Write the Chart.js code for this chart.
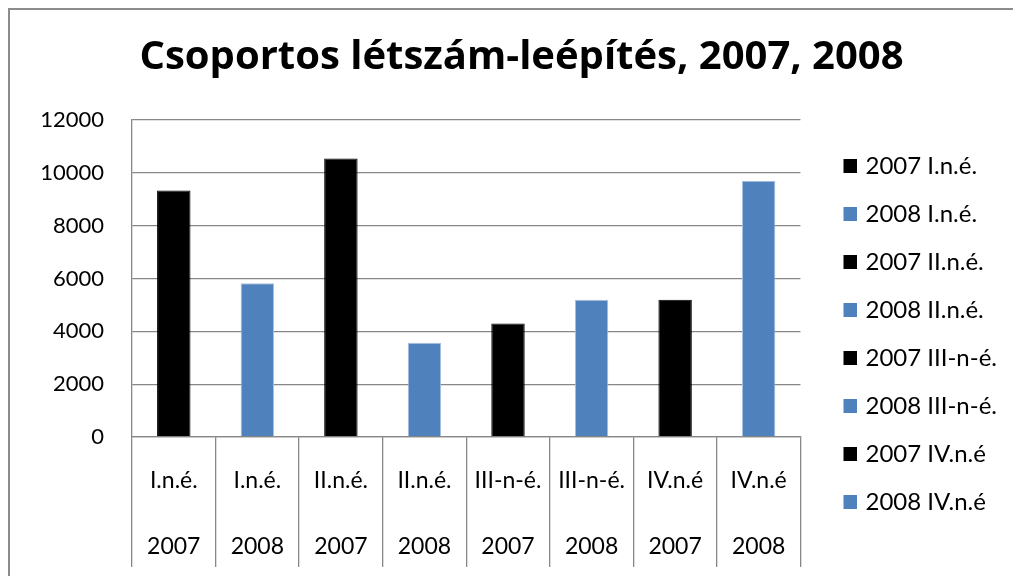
<!DOCTYPE html>
<html>
<head>
<meta charset="utf-8">
<script src="https://cdn.jsdelivr.net/npm/chart.js@4.4.1/dist/chart.umd.min.js"></script>
<style>
  html, body { margin: 0; padding: 0; background: #fff; }
  #wrap { width: 1013px; height: 576px; }
</style>
</head>
<body>
<div id="wrap"><canvas id="myChart"></canvas></div>
<script>
// negyedévek és évek (kétszintű kategóriatengely)
const quarters = ['I.n.é.', 'I.n.é.', 'II.n.é.', 'II.n.é.', 'III-n-é.', 'III-n-é.', 'IV.n.é', 'IV.n.é'];
const years = ['2007', '2008', '2007', '2008', '2007', '2008', '2007', '2008'];
const layoffs = [9330, 5820, 10540, 3570, 4300, 5200, 5200, 9700];
const yMin = 0, yMax = 12000, yStep = 2000;

const yearColors = { '2007': '#000000', '2008': '#4F81BD' };
const gridColor = '#878787';
const fontFamily = 'Lato, "Open Sans", sans-serif';

// jelmagyarázat-négyzet: átlátszó bal rész, hogy legyen hézag a rajzterület után
function swatch(color) {
  const c = document.createElement('canvas');
  c.width = 37;
  c.height = 14;
  const g = c.getContext('2d');
  g.fillStyle = color;
  g.fillRect(23, 0, 14, 14);
  return c;
}
const swatches = { '2007': swatch(yearColors['2007']), '2008': swatch(yearColors['2008']) };

// keret a diagram körül
const frame = {
  id: 'frame',
  beforeDraw(chart) {
    const c = chart.ctx;
    c.save();
    c.strokeStyle = '#8c8c8c';
    c.lineWidth = 2;
    c.strokeRect(9, 9, 1200, 1200);
    c.restore();
  }
};

const ctx = document.getElementById('myChart').getContext('2d');
const myChart = new Chart(ctx, {
  type: 'bar',
  data: {
    labels: quarters.map((q, i) => [q, years[i]]),
    datasets: [{
      label: 'Létszám-leépítés',
      data: layoffs,
      backgroundColor: years.map(y => yearColors[y]),
      borderColor: years.map(y => y === '2008' ? '#A9C1E0' : '#000000'),
      borderWidth: 1,
      categoryPercentage: 1,
      barPercentage: 0.4,
    }],
  },
  options: {
    responsive: true,
    maintainAspectRatio: false,
    animation: false,
    layout: { padding: { left: 36, right: 6, top: 30, bottom: 9 } },
    plugins: {
      title: {
        display: true,
        text: 'Csoportos létszám-leépítés, 2007, 2008',
        color: '#000',
        font: { family: '"Open Sans", sans-serif', size: 40, weight: 'bold' },
        padding: { top: 4, bottom: 38 },
      },
      legend: {
        position: 'right',
        align: 'start',
        // üres cím csak a függőleges eltolás miatt
        title: { display: true, text: '', font: { size: 1 }, padding: { top: 0, bottom: 98.8 } },
        labels: {
          color: '#000',
          font: { family: fontFamily, size: 24 },
          usePointStyle: true,
          pointStyleWidth: 29,
          boxHeight: 14,
          padding: 24,
          generateLabels: () => quarters.map((q, i) => ({
            text: years[i] + ' ' + q,
            fillStyle: yearColors[years[i]],
            strokeStyle: yearColors[years[i]],
            fontColor: '#000',
            pointStyle: swatches[years[i]],
            lineWidth: 0,
            hidden: false,
            index: i,
          })),
        },
        onClick: () => {},
      },
      tooltip: { enabled: false },
    },
    scales: {
      x: {
        grid: {
          drawOnChartArea: false,
          color: gridColor,
          lineWidth: 1.3,
          tickLength: 130,
        },
        border: { color: gridColor, width: 1.3 },
        ticks: {
          color: '#000',
          font: { family: fontFamily, size: 23, lineHeight: 66 / 23 },
          padding: -119,
          maxRotation: 0,
          autoSkip: false,
        },
        afterFit: (scale) => { scale.height = 130; },
      },
      y: {
        min: yMin,
        max: yMax,
        grid: { color: gridColor, lineWidth: 1.3, drawTicks: false },
        border: { color: gridColor, width: 1.3 },
        ticks: {
          stepSize: yStep,
          color: '#000',
          font: { family: fontFamily, size: 22 },
          padding: 28,
          callback: (value) => String(value),
        },
        afterFit: (scale) => { scale.width = 96; },
      },
    },
  },
  plugins: [frame],
});
</script>
</body>
</html>
